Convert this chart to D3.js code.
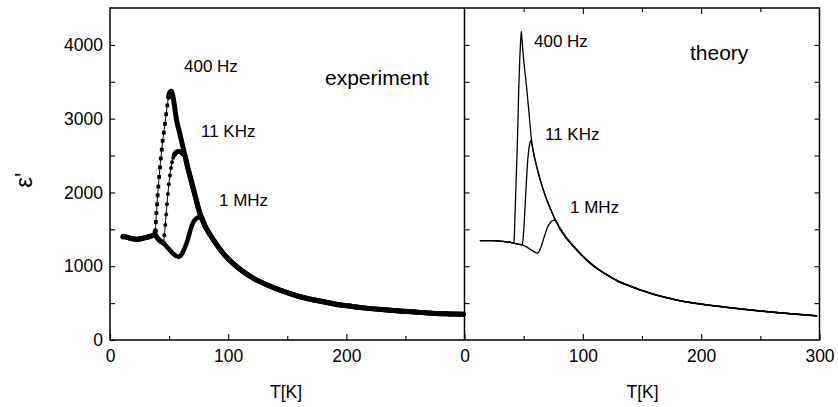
<!DOCTYPE html>
<html><head><meta charset="utf-8">
<script src="https://cdn.jsdelivr.net/npm/d3@7"></script>
<style>
html,body{margin:0;padding:0;background:#fff;}
svg{display:block;}
text{font-family:"Liberation Sans",Arial,Helvetica,sans-serif;fill:#000;}
</style></head><body>
<svg id="chart" width="838" height="407"></svg>
<script>
// ---------------- DATA ----------------
const xTicks = [0, 50, 100, 150, 200, 250, 300];
const xTickLabels = [0, 100, 200, 300];
const yTicks = [0, 500, 1000, 1500, 2000, 2500, 3000, 3500, 4000];
const yTickLabels = [0, 1000, 2000, 3000, 4000];
const freqLabels = ["400 Hz", "11 KHz", "1 MHz"];
const panelTitles = ["experiment", "theory"];

// experiment: shared low-temperature baseline
const expBaseT = [11, 13, 16, 19, 22, 25, 28, 31, 34, 36, 38];
const expBaseV = [1400, 1398, 1385, 1372, 1366, 1370, 1380, 1392, 1405, 1415, 1425];
// experiment 400 Hz (rise + peak)
const exp400MidT = [38.3, 38.8, 39.3, 39.8, 40.3, 40.9, 41.6, 42.3, 43.0, 43.8, 44.6, 45.5, 46.5, 47.5, 48.5, 49.5, 50.7, 52, 53, 54.5, 56, 59, 62.6];
const exp400MidV = [1480, 1600, 1720, 1840, 1960, 2080, 2210, 2340, 2460, 2580, 2700, 2810, 2930, 3060, 3180, 3290, 3360, 3370, 3320, 3180, 3010, 2800, 2555];
// experiment 11 KHz
const exp11kMidT = [40, 42, 44, 45.2, 46, 46.8, 47.5, 48.2, 49, 49.8, 50.7, 51.6, 52.5, 53.5, 54.5, 55.5, 56.5, 57.8, 59, 60.5, 62, 63.5];
const exp11kMidV = [1385, 1350, 1325, 1315, 1420, 1560, 1700, 1840, 1980, 2110, 2230, 2330, 2410, 2470, 2510, 2535, 2550, 2556, 2553, 2540, 2518, 2495];
// experiment 1 MHz
const exp1mMidT = [40, 42, 44, 46, 48, 50, 52, 54, 56, 57.8, 59.5, 61, 63, 65, 67, 69, 71, 73, 74.7, 76.5, 78];
const exp1mMidV = [1385, 1350, 1325, 1300, 1265, 1230, 1195, 1162, 1138, 1130, 1140, 1170, 1240, 1320, 1430, 1540, 1610, 1648, 1660, 1650, 1640];
// experiment shared high-temperature tail
const expTailHeadT = [65, 68, 72, 76, 78];
const expTailHeadV = [2390, 2200, 1960, 1720, 1640];
const expTailT = [80, 85, 90, 95, 100, 105, 110, 118, 125, 133, 145, 160, 175, 190, 205, 217, 230, 245, 260, 273, 287, 299];
const expTailV = [1560, 1420, 1300, 1190, 1100, 1025, 960, 870, 805, 745, 668, 590, 535, 488, 455, 432, 412, 393, 377, 363, 354, 348];

// theory: shared baseline
const thBaseT = [13, 18, 23, 28, 32, 36, 39, 41.6];
const thBaseV = [1348, 1348, 1347, 1344, 1338, 1330, 1322, 1312];
const th400MidT = [42.0, 42.5, 43.1, 43.8, 44.5, 45.2, 45.9, 46.7, 47.4, 48, 49, 50, 51, 52.4, 53.5, 54.5, 55.5, 56.3, 57.2];
const th400MidV = [1360, 1600, 1900, 2240, 2578, 2980, 3437, 3800, 4050, 4183, 3980, 3800, 3640, 3437, 3250, 3080, 2900, 2760, 2640];
const th11kMidT = [45, 48.7, 49.3, 49.9, 50.5, 51.5, 52.5, 53.5, 54.3, 55.3, 56.3, 57.2];
const th11kMidV = [1300, 1289, 1340, 1450, 1600, 1900, 2200, 2450, 2578, 2670, 2705, 2640];
const th1mMidT = [45, 48.7, 52, 55, 58, 60, 61.4, 63, 65, 67, 68.4, 70, 71.2, 73, 75];
const th1mMidV = [1300, 1289, 1265, 1235, 1205, 1185, 1176, 1200, 1275, 1380, 1447, 1520, 1560, 1600, 1620];
const thTailHeadT = [58, 60, 62, 64, 67, 70, 73, 76.8];
const thTailHeadV = [2564, 2417, 2288, 2170, 2016, 1880, 1764, 1625];
const thTailT = [80, 86, 92.3, 99, 106.4, 113, 120.5, 130, 140, 148.6, 160, 176.7, 190, 205, 220, 233, 247, 261, 280, 298];
const thTailV = [1530, 1385, 1266, 1150, 1040, 958, 882, 795, 730, 678, 620, 552, 510, 475, 445, 421, 398, 376, 350, 326];

// ---------------- BUILD SERIES ----------------
function pts(T, V) { return T.map((t, i) => [t, V[i]]); }
const expSeries = [
  pts([...expBaseT, ...exp400MidT, ...expTailHeadT, ...expTailT], [...expBaseV, ...exp400MidV, ...expTailHeadV, ...expTailV]),
  pts([...expBaseT, ...exp11kMidT, ...expTailHeadT, ...expTailT], [...expBaseV, ...exp11kMidV, ...expTailHeadV, ...expTailV]),
  pts([...expBaseT, ...exp1mMidT, ...expTailT], [...expBaseV, ...exp1mMidV, ...expTailV])
];
const thSeries = [
  pts([...thBaseT, ...th400MidT, ...thTailHeadT, ...thTailT], [...thBaseV, ...th400MidV, ...thTailHeadV, ...thTailV]),
  pts([...thBaseT, ...th11kMidT, ...thTailHeadT, ...thTailT], [...thBaseV, ...th11kMidV, ...thTailHeadV, ...thTailV]),
  pts([...thBaseT, ...th1mMidT, ...thTailHeadT.slice(-1), ...thTailT], [...thBaseV, ...th1mMidV, ...thTailHeadV.slice(-1), ...thTailV])
];
// styling: T-range drawn as sparse markers instead of the dense thick band
const sparse = [{from: 38.3, to: 49.5, shape: "square"}, {from: 45.2, to: 54.5, shape: "circle"}, null];

// ---------------- LAYOUT ----------------
const svg = d3.select("#chart");
const yTop = 8, yBot = 340;
const xL = d3.scaleLinear().domain([0, 300]).range([110, 464.5]);
const xR = d3.scaleLinear().domain([0, 300]).range([464.5, 819.5]);
const y = d3.scaleLinear().domain([0, 4500]).range([yBot, yTop]);

const fmtX = d => xTickLabels.includes(d) ? String(d) : "";
const fmtY = d => yTickLabels.includes(d) ? String(d) : "";

function styleAxis(g) {
  g.select(".domain").remove();
  g.selectAll(".tick line").attr("stroke", "#000").attr("stroke-width", 1.1);
  g.selectAll("text").attr("font-size", 17.5).attr("fill", "#000")
    .attr("font-family", '"Liberation Sans",Arial,sans-serif');
}

// left panel axes
svg.append("g").attr("transform", `translate(0,${yBot})`)
  .call(d3.axisBottom(xL).tickValues(xTicks.filter(d => d < 300)).tickFormat(fmtX).tickSizeInner(-6).tickSizeOuter(0).tickPadding(10))
  .call(g => styleAxis(g))
  .call(g => g.selectAll(".tick").filter(d => !xTickLabels.includes(d)).select("line").attr("y2", -4));
svg.append("g").attr("transform", `translate(${xL(0)},0)`)
  .call(d3.axisLeft(y).tickValues(yTicks).tickFormat(fmtY).tickSizeInner(-5).tickSizeOuter(0).tickPadding(7))
  .call(g => styleAxis(g));

// right panel axes
svg.append("g").attr("transform", `translate(0,${yBot})`)
  .call(d3.axisBottom(xR).tickValues(xTicks).tickFormat(fmtX).tickSizeInner(-6).tickSizeOuter(0).tickPadding(10))
  .call(g => styleAxis(g))
  .call(g => g.selectAll(".tick").filter(d => !xTickLabels.includes(d)).select("line").attr("y2", -4));
svg.append("g").attr("transform", `translate(0,${yTop})`)
  .call(d3.axisTop(xR).tickValues(xTicks.filter(d => d > 0 && d < 300)).tickFormat("").tickSizeInner(-6).tickSizeOuter(0))
  .call(g => styleAxis(g))
  .call(g => g.selectAll(".tick").filter(d => !xTickLabels.includes(d)).select("line").attr("y2", 4));
svg.append("g").attr("transform", `translate(${xR(0)},0)`)
  .call(d3.axisLeft(y).tickValues(yTicks.filter(d => d > 0)).tickFormat("").tickSizeInner(-5).tickSizeOuter(0))
  .call(g => styleAxis(g));
svg.append("g").attr("transform", `translate(${xR(300)},0)`)
  .call(d3.axisRight(y).tickValues(yTicks.filter(d => d > 0)).tickFormat("").tickSizeInner(-5).tickSizeOuter(0))
  .call(g => styleAxis(g));

// frames
svg.append("rect").attr("x", xL(0)).attr("y", yTop).attr("width", xR(300) - xL(0)).attr("height", yBot - yTop)
  .attr("fill", "none").attr("stroke", "#000").attr("stroke-width", 1.5);
svg.append("line").attr("x1", xR(0)).attr("x2", xR(0)).attr("y1", yTop).attr("y2", yBot)
  .attr("stroke", "#000").attr("stroke-width", 1.5);

// ---------------- EXPERIMENT CURVES ----------------
const lineL = d3.line().x(d => xL(d[0])).y(d => y(d[1])).curve(d3.curveMonotoneX);
const gExp = svg.append("g");
expSeries.forEach((s, i) => {
  const sp = sparse[i];
  gExp.append("path").attr("d", lineL(s)).attr("fill", "none").attr("stroke", "#000").attr("stroke-width", 1);
  const segs = sp ? [s.filter(d => d[0] <= sp.from), s.filter(d => d[0] >= sp.to)] : [s];
  segs.forEach(seg => {
    gExp.append("path").attr("d", lineL(seg)).attr("fill", "none").attr("stroke", "#000")
      .attr("stroke-width", i === 2 ? 4.5 : 5).attr("stroke-linejoin", "round").attr("stroke-linecap", "round");
  });
  if (sp) {
    const m = s.filter(d => d[0] > sp.from && d[0] < sp.to);
    if (sp.shape === "square") {
      gExp.selectAll(null).data(m).join("rect")
        .attr("x", d => xL(d[0]) - 1.9).attr("y", d => y(d[1]) - 1.9).attr("width", 3.8).attr("height", 3.8).attr("fill", "#000");
    } else {
      gExp.selectAll(null).data(m).join("circle")
        .attr("cx", d => xL(d[0])).attr("cy", d => y(d[1])).attr("r", 2).attr("fill", "#000");
    }
  }
});

// ---------------- THEORY CURVES ----------------
const lineR = d3.line().x(d => xR(d[0])).y(d => y(d[1])).curve(d3.curveMonotoneX);
thSeries.forEach((s, i) => {
  svg.append("path").attr("d", lineR(s)).attr("fill", "none").attr("stroke", "#000")
    .attr("stroke-width", 1.3).attr("stroke-linejoin", "round");
});
// the shared high-temperature part reads as a slightly heavier line
svg.append("path").attr("d", lineR(pts(thTailT, thTailV))).attr("fill", "none").attr("stroke", "#000")
  .attr("stroke-width", 1.7);

// ---------------- TEXT ----------------
const lab = (x, yy, t, fs) => svg.append("text").attr("x", x).attr("y", yy).attr("font-size", fs).text(t);
lab(184, 71.5, freqLabels[0], 17);
lab(201, 136.5, freqLabels[1], 17);
lab(219, 206, freqLabels[2], 17);
lab(325, 85, panelTitles[0], 21);
lab(534, 46.5, freqLabels[0], 17);
lab(545, 140, freqLabels[1], 17);
lab(570, 213, freqLabels[2], 17);
lab(690, 60, panelTitles[1], 21);

svg.append("text").attr("x", 286).attr("y", 398).attr("text-anchor", "middle").attr("font-size", 17.5).text("T[K]");
svg.append("text").attr("x", 642.5).attr("y", 398).attr("text-anchor", "middle").attr("font-size", 17.5).text("T[K]");
svg.append("text").attr("transform", "translate(32,180) rotate(-90)").attr("text-anchor", "middle")
  .attr("font-size", 24).text("ε'");
</script>
</body></html>
